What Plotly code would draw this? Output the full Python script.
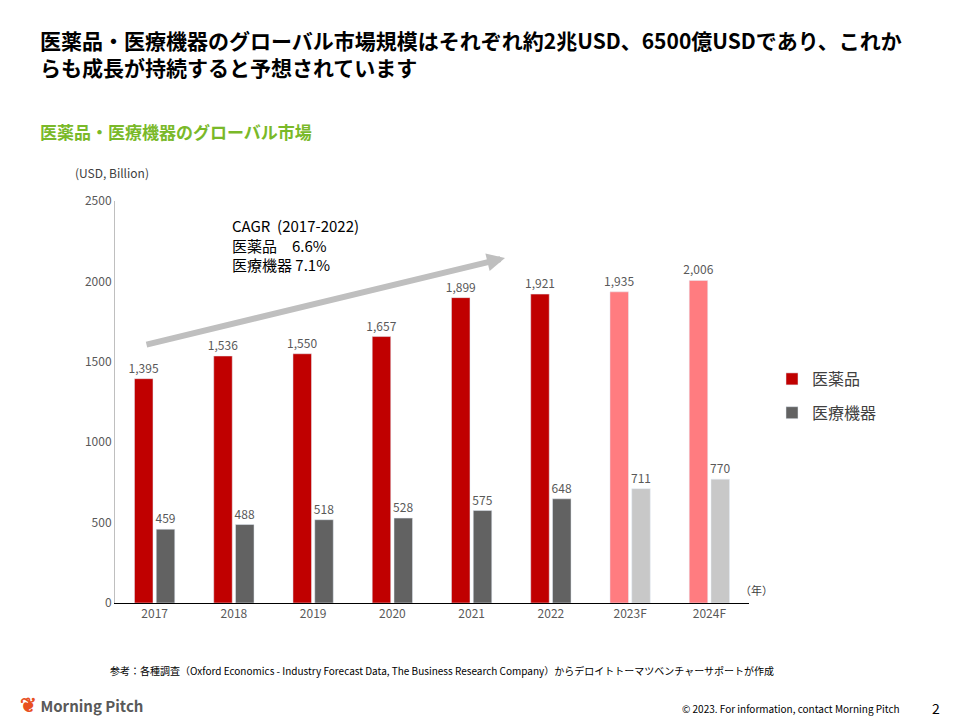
import plotly.graph_objects as go

years = ['2017', '2018', '2019', '2020', '2021', '2022', '2023F', '2024F']
pharma = [1395, 1536, 1550, 1657, 1899, 1921, 1935, 2006]
devices = [459, 488, 518, 528, 575, 648, 711, 770]
pharma_colors = ['#C00000'] * 6 + ['#FF7C80'] * 2
device_colors = ['#626262'] * 6 + ['#C8C8C8'] * 2

FONT = 'Noto Sans CJK JP'
OFF = 8  # page body margin
W, H = 960, 720
L, R, T, B = 115 - OFF, 211 + OFF, 201 - OFF, 117 + OFF


def px(x, y):
    x, y = x - OFF, y - OFF
    return (x - L) / (W - L - R), (H - B - y) / (H - T - B)


fig = go.Figure()
fig.add_trace(go.Bar(x=years, y=pharma, name='医薬品', marker_color=pharma_colors, legendgroup='a',
                     text=[f'{v:,}' for v in pharma], textposition='outside',
                     textfont=dict(size=12, color='#595959'), cliponaxis=False))
fig.add_trace(go.Bar(x=years, y=devices, name='医療機器', marker_color=device_colors, legendgroup='b',
                     text=[f'{v:,}' for v in devices], textposition='outside',
                     textfont=dict(size=12, color='#595959'), cliponaxis=False))

ann = []
x0, y0 = px(145, 345)
x1, y1 = px(505, 258)
ann.append(dict(x=x1, y=y1, ax=x0, ay=y0, xref='x domain', yref='y domain', axref='x domain', ayref='y domain',
                showarrow=True, arrowhead=2, arrowsize=0.6, arrowwidth=6, arrowcolor='#BFBFBF', text=''))
x, y = px(230, 213)
ann.append(dict(x=x, y=y, xref='paper', yref='paper', xanchor='left', yanchor='top', showarrow=False, align='left',
                text='CAGR  (2017-2022)<br>医薬品　6.6%<br>医療機器 7.1%', font=dict(size=15, color='#000')))
x, y = px(38, 54)
ann.append(dict(x=x, y=y, xref='paper', yref='paper', xanchor='left', yanchor='middle', showarrow=False, align='left',
                text='<b>医薬品・医療機器のグローバル市場規模はそれぞれ約2兆USD、6500億USDであり、これか<br>らも成長が持続すると予想されています</b>',
                font=dict(size=21, color='#000')))
x, y = px(38, 131)
ann.append(dict(x=x, y=y, xref='paper', yref='paper', xanchor='left', yanchor='middle', showarrow=False,
                text='<b>医薬品・医療機器のグローバル市場</b>', font=dict(size=17, color='#7AB929')))
x, y = px(73, 172)
ann.append(dict(x=x, y=y, xref='paper', yref='paper', xanchor='left', yanchor='middle', showarrow=False,
                text='(USD, Billion)', font=dict(size=12, color='#404040')))
x, y = px(738, 590)
ann.append(dict(x=x, y=y, xref='paper', yref='paper', xanchor='left', yanchor='middle', showarrow=False,
                text='（年）', font=dict(size=11, color='#404040')))
x, y = px(108, 670)
ann.append(dict(x=x, y=y, xref='paper', yref='paper', xanchor='left', yanchor='middle', showarrow=False,
                text='参考：各種調査（Oxford Economics - Industry Forecast Data, The Business Research Company）からデロイトトーマツベンチャーサポートが作成',
                font=dict(size=10, color='#000')))
x, y = px(18, 703)
ann.append(dict(x=x, y=y, xref='paper', yref='paper', xanchor='left', yanchor='middle', showarrow=False,
                text='<b><span style="color:#E8501F;font-size:20px">❦</span> Morning Pitch</b>', font=dict(size=15, color='#595959')))
x, y = px(680, 708)
ann.append(dict(x=x, y=y, xref='paper', yref='paper', xanchor='left', yanchor='middle', showarrow=False,
                text='© 2023. For information, contact Morning Pitch', font=dict(size=10, color='#000')))
x, y = px(930, 708)
ann.append(dict(x=x, y=y, xref='paper', yref='paper', xanchor='left', yanchor='middle', showarrow=False,
                text='2', font=dict(size=14, color='#000')))

fig.update_layout(
    width=W, height=H, margin=dict(l=L, r=R, t=T, b=B),
    paper_bgcolor='white', plot_bgcolor='white',
    font=dict(family=FONT),
    barmode='group', bargap=0.45, bargroupgap=0.15,
    uniformtext=dict(minsize=12, mode='show'),
    showlegend=True,
    legend=dict(x=px(772, 0)[0], y=px(0, 362)[1], xanchor='left', yanchor='top',
                font=dict(size=16, color='#404040'), tracegroupgap=10, itemwidth=30),
    xaxis=dict(showline=True, linecolor='#000', linewidth=1, ticks='', tickfont=dict(size=12, color='#595959')),
    yaxis=dict(range=[0, 2500], dtick=500, showgrid=False, showline=True, linecolor='#BFBFBF',
               tickfont=dict(size=12, color='#595959'), ticks='', zeroline=False),
    annotations=ann,
)
fig.write_html('out.html')
